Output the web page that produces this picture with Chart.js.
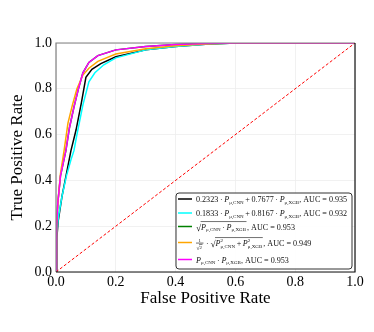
<!DOCTYPE html>
<html>
<head>
<meta charset="utf-8">
<script src="https://cdn.jsdelivr.net/npm/chart.js@4.4.1/dist/chart.umd.min.js"></script>
<style>
  body { margin: 0; background: #fff; }
  #wrap { width: 374px; height: 332px; }
</style>
</head>
<body>
<div id="wrap"><canvas id="roc" width="374" height="332"></canvas></div>
<script>
// ROC curves (FPR, TPR)
const fprWeighted1 = [0, 0.003, 0.007, 0.02, 0.035, 0.05, 0.067, 0.085, 0.1, 0.12, 0.15, 0.2, 0.3, 0.4, 0.5, 0.6, 1];
const tprWeighted1 = [0, 0.15, 0.22, 0.33, 0.43, 0.53, 0.62, 0.74, 0.85, 0.885, 0.91, 0.94, 0.97, 0.985, 0.995, 1, 1];

const fprWeighted2 = [0, 0.003, 0.008, 0.02, 0.035, 0.05, 0.06, 0.07, 0.09, 0.11, 0.13, 0.16, 0.2, 0.3, 0.4, 0.5, 0.6, 1];
const tprWeighted2 = [0, 0.17, 0.24, 0.33, 0.42, 0.49, 0.53, 0.6, 0.73, 0.83, 0.87, 0.905, 0.935, 0.97, 0.985, 0.995, 1, 1];

const fprGeoMean = [0, 0.002, 0.006, 0.015, 0.033, 0.045, 0.06, 0.075, 0.09, 0.11, 0.14, 0.2, 0.3, 0.4, 0.5, 0.6, 1];
const tprGeoMean = [0, 0.2, 0.3, 0.42, 0.53, 0.63, 0.72, 0.8, 0.87, 0.915, 0.945, 0.97, 0.985, 0.993, 0.998, 1, 1];

const fprQuadMean = [0, 0.002, 0.006, 0.015, 0.027, 0.04, 0.055, 0.07, 0.09, 0.11, 0.14, 0.2, 0.3, 0.4, 0.5, 0.6, 1];
const tprQuadMean = [0, 0.2, 0.3, 0.43, 0.53, 0.65, 0.73, 0.8, 0.86, 0.89, 0.92, 0.952, 0.975, 0.988, 0.996, 1, 1];

const fprProduct = fprGeoMean;
const tprProduct = tprGeoMean;

const chanceLine = [0, 1];
const axisTicks = [0, 0.2, 0.4, 0.6, 0.8, 1.0];

const seriesColors = ['#000000', '#00ffff', '#008000', '#ffa500', '#ff00ff'];

// legend labels as rich text pieces (i = italic, sub = subscript, ss = [sup, sub])
const legendLabels = [
  ['0.2323\u2009·\u2009', {i: 'P'}, {sub: 'μ,CNN'}, '\u2009+\u20090.7677\u2009·\u2009', {i: 'P'}, {sub: 'μ,XGB'}, ', AUC = 0.935'],
  ['0.1833\u2009·\u2009', {i: 'P'}, {sub: 'μ,CNN'}, '\u2009+\u20090.8167\u2009·\u2009', {i: 'P'}, {sub: 'μ,XGB'}, ', AUC = 0.932'],
  [{sqrt: [{i: 'P'}, {sub: 'μ,CNN'}, '\u2009·\u2009', {i: 'P'}, {sub: 'μ,XGB'}]}, ', AUC = 0.953'],
  [{frac: ['1', [{sqrt: ['2']}]]}, '\u2009·\u2009', {sqrt: [{i: 'P'}, {ss: ['2', 'μ,CNN']}, '\u2009+\u2009', {i: 'P'}, {ss: ['2', 'μ,XGB']}]}, ', AUC = 0.949'],
  [{i: 'P'}, {sub: 'μ,CNN'}, '\u2009·\u2009', {i: 'P'}, {sub: 'μ,XGB'}, ', AUC = 0.953']
];

const serif = '"Liberation Serif", "DejaVu Serif", serif';

function pts(xs, ys) {
  return xs.map((x, k) => ({x: x, y: ys[k]}));
}

function fnt(size, italic) {
  return (italic ? 'italic ' : '') + size + 'px ' + serif;
}

// tiny rich text writer, returns the width used
function rich(ctx, toks, x, y, size, draw) {
  let cx = x;
  toks.forEach(t => {
    if (typeof t === 'string') {
      ctx.font = fnt(size);
      if (draw) ctx.fillText(t, cx, y);
      cx += ctx.measureText(t).width;
    } else if (t.i) {
      ctx.font = fnt(size, true);
      if (draw) ctx.fillText(t.i, cx, y);
      cx += ctx.measureText(t.i).width;
    } else if (t.sub) {
      const s = size * 0.62;
      ctx.font = fnt(s);
      if (draw) ctx.fillText(t.sub, cx, y + size * 0.22);
      cx += ctx.measureText(t.sub).width;
    } else if (t.ss) {
      const s = size * 0.62;
      ctx.font = fnt(s);
      if (draw) {
        ctx.fillText(t.ss[0], cx, y - size * 0.4);
        ctx.fillText(t.ss[1], cx, y + size * 0.28);
      }
      cx += Math.max(ctx.measureText(t.ss[0]).width, ctx.measureText(t.ss[1]).width);
    } else if (t.sqrt) {
      const s = size * 1.15;
      ctx.font = fnt(s);
      const rw = ctx.measureText('√').width;
      if (draw) ctx.fillText('√', cx, y + 1);
      const inner = rich(ctx, t.sqrt, cx + rw, y, size, draw);
      if (draw) {
        ctx.beginPath();
        ctx.lineWidth = 0.6;
        ctx.moveTo(cx + rw - 0.5, y - size * 0.98);
        ctx.lineTo(cx + rw + inner + 0.5, y - size * 0.98);
        ctx.stroke();
      }
      cx += rw + inner + 1;
    } else if (t.frac) {
      const s = size * 0.6;
      ctx.font = fnt(s);
      const nw = ctx.measureText(t.frac[0]).width;
      const dw = rich(ctx, t.frac[1], 0, 0, s, false);
      const w = Math.max(nw, dw) + 1;
      if (draw) {
        ctx.font = fnt(s);
        ctx.fillText(t.frac[0], cx + (w - nw) / 2, y - size * 0.45);
        rich(ctx, t.frac[1], cx + (w - dw) / 2, y + size * 0.45, s, true);
        ctx.beginPath();
        ctx.lineWidth = 0.6;
        ctx.moveTo(cx, y - size * 0.3);
        ctx.lineTo(cx + w, y - size * 0.3);
        ctx.stroke();
      }
      cx += w + 1;
    }
  });
  return cx - x;
}

const frameAndLegend = {
  id: 'frameAndLegend',
  afterDraw(chart) {
    const ctx = chart.ctx;
    const a = chart.chartArea;
    ctx.save();
    // axes frame
    ctx.lineWidth = 1.2;
    ctx.strokeStyle = '#808080';
    ctx.beginPath();
    ctx.moveTo(a.left, a.bottom);
    ctx.lineTo(a.left, a.top);
    ctx.lineTo(a.right, a.top);
    ctx.stroke();
    ctx.strokeStyle = '#111';
    ctx.beginPath();
    ctx.moveTo(a.right, a.top);
    ctx.lineTo(a.right, a.bottom);
    ctx.lineTo(a.left, a.bottom);
    ctx.stroke();

    // legend box in the lower right corner
    const bx = 176, by = 193, bw = 176, bh = 76;
    ctx.fillStyle = 'rgba(255,255,255,0.9)';
    ctx.strokeStyle = '#333';
    ctx.lineWidth = 1;
    ctx.beginPath();
    ctx.roundRect(bx, by, bw, bh, 3);
    ctx.fill();
    ctx.stroke();

    const rows = [199, 213, 226.5, 242.5, 259.5];
    ctx.textBaseline = 'alphabetic';
    legendLabels.forEach((lab, k) => {
      const ry = rows[k];
      ctx.strokeStyle = seriesColors[k];
      ctx.lineWidth = 1.5;
      ctx.beginPath();
      ctx.moveTo(bx + 2, ry);
      ctx.lineTo(bx + 16, ry);
      ctx.stroke();
      ctx.fillStyle = '#111';
      ctx.strokeStyle = '#111';
      rich(ctx, lab, bx + 20, ry + 3, 8.1, true);
    });
    ctx.restore();
  }
};

const mkLine = (data, color, order) => ({
  data: data,
  borderColor: color,
  borderWidth: 1.5,
  pointRadius: 0,
  tension: 0,
  fill: false,
  order: order
});

new Chart(document.getElementById('roc'), {
  type: 'line',
  data: {
    datasets: [
      mkLine(pts(fprWeighted1, tprWeighted1), seriesColors[0], 6),
      mkLine(pts(fprWeighted2, tprWeighted2), seriesColors[1], 5),
      mkLine(pts(fprGeoMean, tprGeoMean), seriesColors[2], 4),
      mkLine(pts(fprQuadMean, tprQuadMean), seriesColors[3], 3),
      mkLine(pts(fprProduct, tprProduct), seriesColors[4], 2),
      {
        data: pts(chanceLine, chanceLine),
        borderColor: '#ff0000',
        borderWidth: 1,
        borderDash: [3, 2],
        pointRadius: 0,
        fill: false,
        order: 1
      }
    ]
  },
  options: {
    responsive: false,
    animation: false,
    layout: { padding: { top: 43, right: 19, bottom: 20, left: 0 } },
    plugins: { legend: { display: false }, tooltip: { enabled: false } },
    scales: {
      x: {
        type: 'linear',
        min: 0, max: 1,
        afterBuildTicks: s => { s.ticks = axisTicks.map(v => ({value: v})); },
        afterFit: s => { s.height = 40; },
        ticks: {
          callback: v => v.toFixed(1),
          font: { family: serif, size: 14 },
          color: '#000',
          padding: 2,
          maxRotation: 0
        },
        grid: { color: '#eeeeee', lineWidth: 0.8, drawTicks: false },
        border: { display: false },
        title: {
          display: true,
          text: 'False Positive Rate',
          font: { family: serif, size: 17 },
          color: '#000',
          padding: { top: 0, bottom: 3 }
        }
      },
      y: {
        type: 'linear',
        min: 0, max: 1,
        afterBuildTicks: s => { s.ticks = axisTicks.map(v => ({value: v})); },
        afterFit: s => { s.width = 56; },
        ticks: {
          callback: v => v.toFixed(1),
          font: { family: serif, size: 14 },
          color: '#000',
          padding: 4
        },
        grid: { color: '#eeeeee', lineWidth: 0.8, drawTicks: false },
        border: { display: false },
        title: {
          display: true,
          text: 'True Positive Rate',
          font: { family: serif, size: 17 },
          color: '#000',
          padding: { top: 7, bottom: 0 }
        }
      }
    }
  },
  plugins: [frameAndLegend]
});
</script>
</body>
</html>
